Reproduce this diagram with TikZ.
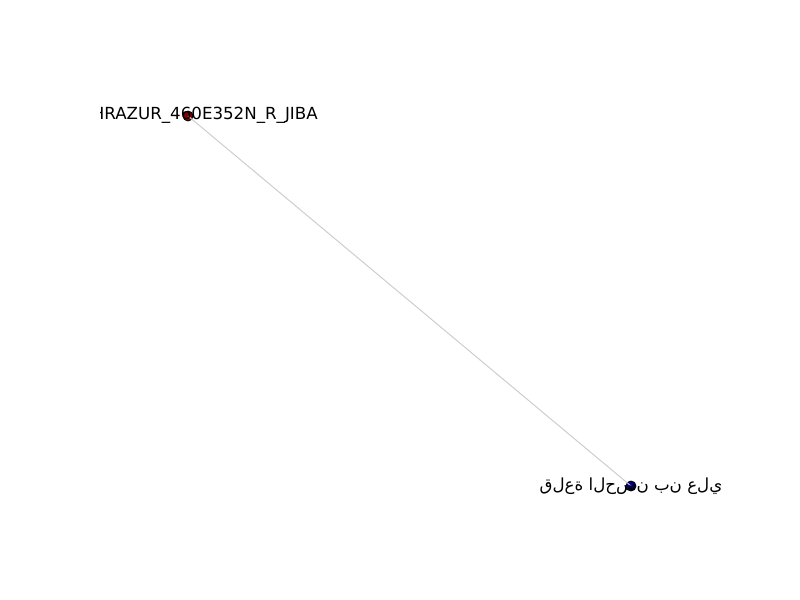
\documentclass[tikz,border=0pt]{standalone}
\usepackage{fontspec}
\setmainfont{DejaVu Sans}
\newfontfamily\arabicfont[Script=Arabic]{DejaVu Sans}
\usetikzlibrary{positioning}
\definecolor{edgegrey}{HTML}{CCCCCC}
\definecolor{nodered}{HTML}{800000}
\definecolor{nodeblue}{HTML}{000080}
% letters one by one, left to right, unjoined
\def\isoword#1{\ifx#1\relax\else\hbox{#1}\expandafter\isoword\fi}

\begin{document}
\begin{tikzpicture}[x=0.72bp,y=-0.72bp]
 \tikzset{site/.style={circle,draw=black,line width=0.6pt,inner sep=0pt,minimum size=7.2bp},
          link/.style={draw=edgegrey,line width=0.7pt},
          tag/.style={font=\fontsize{12bp}{14bp}\selectfont,inner sep=0pt}}
 \useasboundingbox (0,0) rectangle (800,600);
 \node[site,fill=nodered] (R) at (188,116) {};
 \node[site,fill=nodeblue] (Q) at (631,486) {};

 \draw[link] (R.center) -- (Q.center);

 \begin{scope}
  \clip (100,0) rectangle (720,600);
  \node[tag,anchor=east] (Rl) at (318,115) {HRAZUR\_460E352N\_R\_JIBA};
 \end{scope}
 \node[tag] (Ql) at (631,486) {\arabicfont\isoword قلعة\relax\ \isoword الحسن\relax\ \isoword بن\relax\ \isoword علي\relax};
\end{tikzpicture}
\end{document}
